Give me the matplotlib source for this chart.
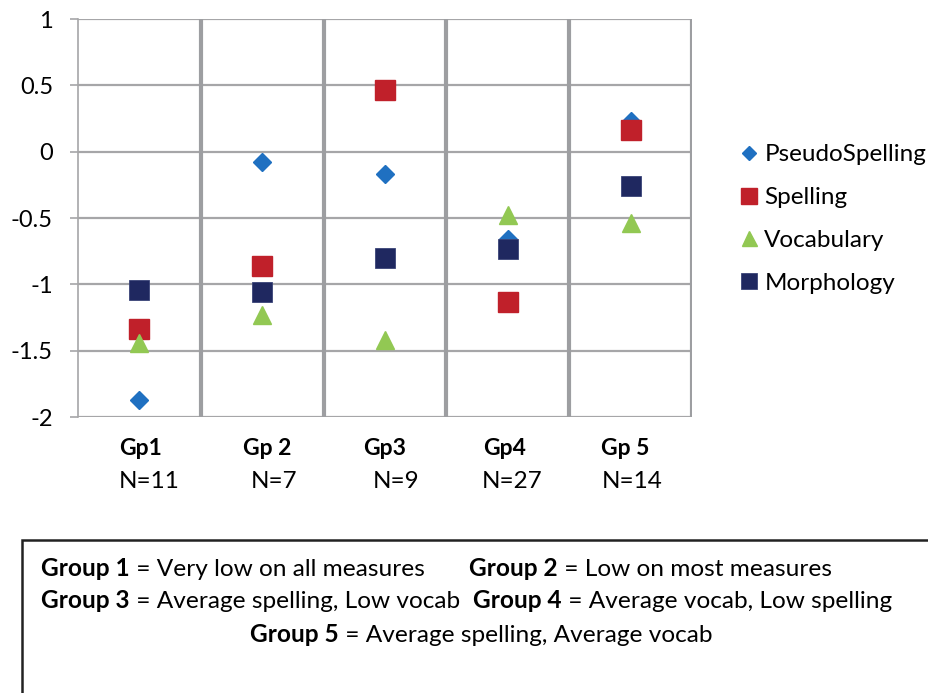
import matplotlib
matplotlib.use("Agg")
import matplotlib.pyplot as plt
from matplotlib.patches import Rectangle

plt.rcParams["font.family"] = ["Lato", "DejaVu Sans"]

# Group labels and sizes
groups = ["Gp1", "Gp 2", "Gp3", "Gp4", "Gp 5"]
n_labels = ["N=11", "N=7", "N=9", "N=27", "N=14"]

# Mean z-scores per group
pseudo = [-1.87, -0.08, -0.17, -0.66, 0.23]
spelling = [-1.34, -0.86, 0.465, -1.13, 0.16]
vocab = [-1.44, -1.23, -1.42, -0.48, -0.54]
morph = [-1.04, -1.06, -0.80, -0.73, -0.26]

y_ticks = [1, 0.5, 0, -0.5, -1, -1.5, -2]
y_tick_labels = ["1", "0.5", "0", "-0.5", "-1", "-1.5", "-2"]

# group descriptions for the box below the plot
desc_lines = [
    [("Group 1", " = Very low on all measures"), ("Group 2", " = Low on most measures")],
    [("Group 3", " = Average spelling, Low vocab"), ("Group 4", " = Average vocab, Low spelling")],
    [("Group 5", " = Average spelling, Average vocab")],
]

GRID = "#a6a6a8"
FS_BOX = 17.6
FS_LEG = 17.5


def draw_rich(fig, x, y, bold, plain):
    t = fig.text(x, y, bold, fontsize=FS_BOX, fontweight="bold", va="bottom", ha="left")
    fig.canvas.draw()
    t2 = fig.text(0, 0, plain, fontsize=FS_BOX, va="bottom", ha="left")
    bb = t.get_window_extent()
    t2.set_position(fig.transFigure.inverted().transform((bb.x1, bb.y0)))
    return t2


def main():
    fig = plt.figure(figsize=(9.29, 6.93), dpi=100)
    ax = fig.add_axes([78 / 929, 1 - 417 / 693, (692 - 78) / 929, (417 - 19) / 693])

    x = list(range(1, len(groups) + 1))
    ax.plot(x, pseudo, "D", color="#1f70c1", ms=9.2, mec="#1f70c1", label="PseudoSpelling", zorder=3)
    ax.plot(x, spelling, "s", color="#c0202a", ms=13.7, mec="#c0202a", label="Spelling", zorder=3)
    ax.plot(x, vocab, "^", color="#92c853", ms=13.5, mec="#92c853", label="Vocabulary", zorder=3)
    ax.plot(x, morph, "s", color="#1f2860", ms=14.8, mec="#3a4478", mew=0.6, label="Morphology", zorder=3)

    ax.set_xlim(0.5, 5.5)
    ax.set_ylim(-2, 1)
    ax.set_yticks(y_ticks)
    ax.set_yticklabels(y_tick_labels, fontsize=17)
    ax.set_xticks([])
    for yv in y_ticks:
        ax.axhline(yv, color=GRID, lw=1.6, zorder=1)
    for xv in [1.5, 2.5, 3.5, 4.5, 5.5]:
        ax.axvline(xv, color="#9d9ea1", lw=3.0, zorder=1)
    for s in ["top", "bottom", "right"]:
        ax.spines[s].set_visible(False)
    ax.spines["left"].set_color(GRID)
    ax.spines["left"].set_linewidth(1.2)
    ax.tick_params(axis="y", length=6, width=1.2, color=GRID, pad=12)

    # group names and sizes under each column
    gp_nudge = [1, 5, 0, -3, -5]
    n_nudge = [10, 12, 11, 4, 2]
    for i in range(len(groups)):
        ax.annotate(groups[i], xy=(x[i], 0), xycoords=("data", "axes fraction"),
                    xytext=(gp_nudge[i] * 0.72, -31 * 0.72), textcoords="offset points",
                    ha="center", va="center", fontsize=16.5, fontweight="bold")
        ax.annotate(n_labels[i], xy=(x[i], 0), xycoords=("data", "axes fraction"),
                    xytext=(n_nudge[i] * 0.72, -64 * 0.72), textcoords="offset points",
                    ha="center", va="center", fontsize=17.5)

    fig.legend(loc="center left", bbox_to_anchor=(740 / 929, 1 - 219 / 693), frameon=False,
               fontsize=FS_LEG, markerscale=0.8, handlelength=0.7, handletextpad=0.3,
               labelspacing=0.9, borderpad=0, borderaxespad=0)

    # description box
    fig.patches.append(Rectangle((22 / 929, -0.1), 1.0, 0.1 + 1 - 540 / 693,
                                 transform=fig.transFigure, fill=False,
                                 edgecolor="#222222", lw=1.8))
    starts = [[41, 469], [41, 473], [250]]
    rows_y = [580, 612, 646]
    for line, xs, yb in zip(desc_lines, starts, rows_y):
        for (bold, plain), xp in zip(line, xs):
            draw_rich(fig, xp / 929, 1 - yb / 693, bold, plain)

    plt.savefig("out.png", dpi=100)
    plt.close()


if __name__ == "__main__":
    main()
